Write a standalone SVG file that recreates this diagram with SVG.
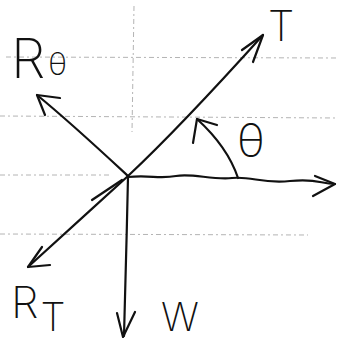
<svg xmlns="http://www.w3.org/2000/svg" width="338" height="341" viewBox="0 0 338 341">
<style>
.ink{fill:none;stroke:#111;stroke-width:2.2;stroke-linecap:round;stroke-linejoin:round}
.rule{fill:none;stroke:#b4b4b4;stroke-width:1;stroke-dasharray:5 3 2 3}
.lbl{font-family:Inter,"Liberation Sans",sans-serif;font-weight:200;fill:#111}
</style>
<rect width="338" height="341" fill="#fff"/>
<g id="paper-rules">
<path class="rule" d="M6,57 L338,58"/>
<path class="rule" d="M0,116 L338,118"/>
<path class="rule" d="M0,175 L112,175"/>
<path class="rule" d="M0,234 L308,235"/>
<path class="rule" d="M134,6 L132,132"/>
</g>
<g id="connectors">
<g id="arrow-horizontal"><path class="ink" d="M128,177 C150,175 160,179 176,176 S212,180 232,178 S262,184 290,181 S320,184 335,184"/><path class="ink" d="M315,176 L335,184 L313,196"/></g>
<g id="arrow-T"><path class="ink" d="M128,176 C160,146 200,105 263,35"/><path class="ink" d="M242,50 L263,35 L253,62"/></g>
<g id="arrow-Rtheta"><path class="ink" d="M128,176 C100,150 70,122 37,95"/><path class="ink" d="M60,98 L37,95 L45,115"/></g>
<g id="arrow-RT"><path class="ink" d="M128,176 C95,206 60,238 28,267"/><path class="ink" d="M92,200 L122,180"/><path class="ink" d="M50,265 L28,267 L42,247"/></g>
<g id="arrow-W"><path class="ink" d="M128,177 C127,230 125,290 124,336"/><path class="ink" d="M117,313 L123,337 L135,312"/></g>
<g id="arc-theta"><path class="ink" d="M238,178 C232,160 220,140 197,119"/><path class="ink" d="M193,143 L197,119 L217,125"/></g>
</g>
<g id="label-T"><text class="lbl" x="268" y="41" font-size="42">T</text></g>
<g id="label-Rtheta"><text class="lbl" x="11" y="78" font-size="55">R<tspan dx="3" dy="-3" font-size="31">θ</tspan></text></g>
<g id="label-theta"><text class="lbl" x="237" y="157" font-size="46">θ</text></g>
<g id="label-RT"><text class="lbl" x="11" y="318" font-size="44">R<tspan dx="2" dy="13" font-size="40">T</tspan></text></g>
<g id="label-W"><text class="lbl" x="161" y="331" font-size="40">W</text></g>
</svg>
